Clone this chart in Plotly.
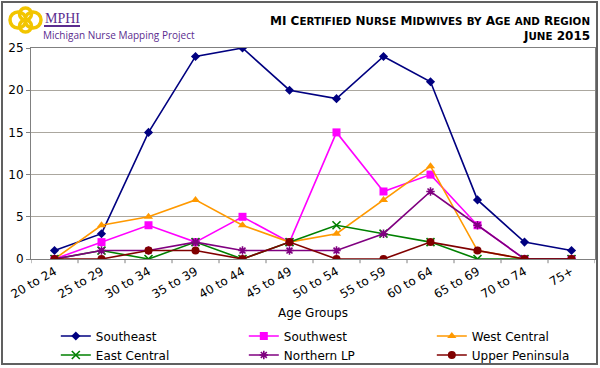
import plotly.graph_objects as go

categories = ["20 to 24", "25 to 29", "30 to 34", "35 to 39", "40 to 44", "45 to 49",
              "50 to 54", "55 to 59", "60 to 64", "65 to 69", "70 to 74", "75+"]
southeast = [1, 3, 15, 24, 25, 20, 19, 24, 21, 7, 2, 1]
southwest = [0, 2, 4, 2, 5, 2, 15, 8, 10, 4, 0, 0]
west_central = [0, 4, 5, 7, 4, 2, 3, 7, 11, 1, 0, 0]
east_central = [0, 1, 0, 2, 0, 2, 4, 3, 2, 0, 0, 0]
northern_lp = [0, 1, 1, 2, 1, 1, 1, 3, 8, 4, 0, 0]
upper_peninsula = [0, 0, 1, 1, 0, 2, 0, 0, 2, 1, 0, 0]
y_ticks = [0, 5, 10, 15, 20, 25]
title_line1 = "MI Certified Nurse Midwives by Age and Region"
title_line2 = "June 2015"

series = [
    ("Southeast", southeast, "#000080", "diamond", 7),
    ("Southwest", southwest, "#FF00FF", "square", 8),
    ("West Central", west_central, "#FF9900", "triangle-up", 8),
    ("East Central", east_central, "#008000", "x-thin-open", 8),
    ("Northern LP", northern_lp, "#800080", "asterisk-open", 7),
    ("Upper Peninsula", upper_peninsula, "#800000", "circle", 8),
]


def small_caps(text, big=12, small=10):
    out = []
    for ch in text:
        if ch.islower():
            out.append(f"<span style='font-size:{small}px'>{ch.upper()}</span>")
        else:
            out.append(f"<span style='font-size:{big}px'>{ch}</span>")
    return "<b>" + "".join(out) + "</b>"


fig = go.Figure()
for name, vals, color, sym, size in series:
    fig.add_trace(go.Scatter(
        x=categories, y=vals, name=name, mode="lines+markers",
        line=dict(color=color, width=1.6),
        marker=dict(symbol=sym, size=size, color=color,
                    line=dict(color=color, width=1.6 if "open" in sym else 0)),
    ))

font = "Verdana, DejaVu Sans, sans-serif"
fig.update_layout(
    width=600, height=368,
    margin=dict(l=31, r=5, t=48, b=109, autoexpand=False),
    paper_bgcolor="white", plot_bgcolor="white",
    font=dict(family=font, size=12, color="black"),
    showlegend=True,
    legend=dict(orientation="h", x=0.044, xanchor="left", y=-0.296, yanchor="top",
                entrywidth=143, entrywidthmode="pixels", font=dict(size=12),
                tracegroupgap=0, itemwidth=30, bgcolor="rgba(0,0,0,0)"),
    xaxis=dict(range=[-0.5, 11.5], tickangle=-30, showgrid=False,
               showline=True, linecolor="#808080", linewidth=1, mirror=True,
               ticks="", tickfont=dict(size=12), automargin=False,
               title=dict(text="Age Groups", font=dict(size=12), standoff=8)),
    yaxis=dict(range=[0, 25], tickvals=y_ticks, showgrid=True, gridcolor="#ABA79F",
               gridwidth=1, showline=True, linecolor="#808080", linewidth=1, mirror=True,
               ticks="outside", ticklen=4, tickcolor="#808080", zeroline=False,
               tickfont=dict(size=12), automargin=False),
)

# category separator tick marks on x axis
for i in range(13):
    fig.add_shape(type="line", xref="x", yref="paper", x0=i - 0.5, x1=i - 0.5,
                  y0=0, y1=-0.02, line=dict(color="#808080", width=1))

# outer border
fig.add_shape(type="rect", xref="paper", yref="paper",
              x0=-29 / 564, x1=1 + 2 / 564, y0=-(109 - 4) / 211, y1=1 + 46 / 211,
              line=dict(color="#606060", width=2), layer="above")


def px(xp):
    return (xp - 31) / 564


def py(yp):
    return (259 - yp) / 211


# title
fig.add_annotation(xref="paper", yref="paper", x=px(592), y=py(21), xanchor="right",
                   yanchor="middle", showarrow=False,
                   text=small_caps(title_line1, 12, 10.3),
                   font=dict(family=font, size=12, color="black"))
fig.add_annotation(xref="paper", yref="paper", x=px(592), y=py(36), xanchor="right",
                   yanchor="middle", showarrow=False, text=small_caps(title_line2, 12, 10.3),
                   font=dict(family=font, size=12, color="black"))

# logo (approximate)
for cx, cy, r in [(18, 20, 8), (33, 20, 8), (25.5, 14, 6), (25.5, 26, 6)]:
    fig.add_shape(type="circle", xref="paper", yref="paper",
                  x0=px(cx - r), x1=px(cx + r), y0=py(cy + r), y1=py(cy - r),
                  line=dict(color="#F2C500", width=3.5), layer="above")
fig.add_annotation(xref="paper", yref="paper", x=px(43), y=py(18), xanchor="left",
                   yanchor="middle", showarrow=False, text="MPHI",
                   font=dict(family="Liberation Serif, serif", size=14, color="#5B2C8F"))
fig.add_shape(type="line", xref="paper", yref="paper", x0=px(44), x1=px(80),
              y0=py(26), y1=py(26), line=dict(color="#5B2C8F", width=2))
fig.add_annotation(xref="paper", yref="paper", x=px(41), y=py(35), xanchor="left",
                   yanchor="middle", showarrow=False, text="Michigan Nurse Mapping Project",
                   font=dict(family="Open Sans, sans-serif", size=10, color="#5B2C8F"))

fig.write_html("out.html", config={"displayModeBar": False},
               post_script="document.body.style.margin='0';")
